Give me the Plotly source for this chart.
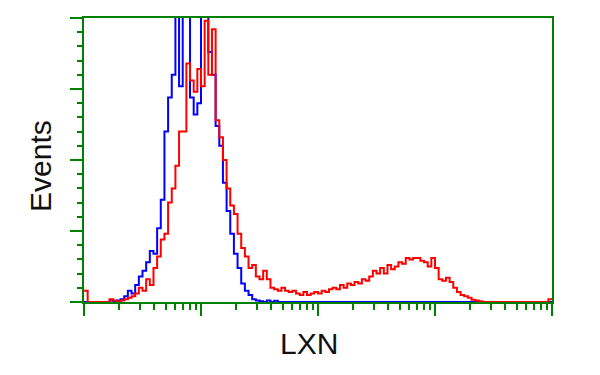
import plotly.graph_objects as go

# 128 log-spaced channels over 4 decades (channel k -> 10**(k/32))
channels = list(range(128))

blue_counts = [
    0, 0, 0, 0, 0, 0, 0, 0.5, 0, 0.5,
    1, 2, 4, 3, 6, 9, 11, 14, 18, 17,
    26, 36, 60, 72, 80, 120, 76, 120, 115, 72,
    66, 70, 120, 120, 88, 80, 62, 55, 42, 32,
    24, 17, 12, 6.5, 4, 2.5, 1, 0.5, 0.3, 0,
    0.5, 0, 0.4, 0, 0, 0, 0, 0, 0, 0,
] + [0] * 68

red_counts = [
    4, 0, 0, 0, 0, 0, 0, 1, 0.5, 0,
    0.5, 1, 1.5, 2, 3, 5, 4, 8, 6, 12,
    16, 22, 24, 35, 40, 48, 60, 60, 84, 78,
    74, 82, 76, 99, 80, 96, 64, 58, 50, 40,
    34, 31, 24, 19, 16, 12, 13, 9, 8, 11,
    8, 5, 4.5, 4, 5, 4, 3.5, 4, 3, 2.5,
    3.5, 2.5, 3, 3.5, 3, 4, 3.5, 4.5, 5, 4.5,
    6, 5, 6.5, 6, 7, 6.5, 8, 7.5, 9, 11,
    10, 12, 10, 13, 11.5, 12.5, 14, 13.5, 15.5, 15,
    15.5, 15.5, 14.5, 14, 12.5, 15.5, 12, 8, 7.5, 8.5,
    7, 5, 3.5, 2.5, 2, 1.5, 0.8, 0.5, 0.3, 0,
] + [0] * 17 + [1]

x_vals = [10 ** (k / 32) for k in channels] + [10 ** 4]
blue_y = blue_counts + [blue_counts[-1]]
red_y = red_counts + [red_counts[-1]]

fig = go.Figure()
fig.add_trace(go.Scatter(x=x_vals, y=blue_y, mode="lines", line=dict(color="#0000ff", width=2, shape="hv"),
                         showlegend=False, hoverinfo="skip"))
fig.add_trace(go.Scatter(x=x_vals, y=red_y, mode="lines", line=dict(color="#ff0000", width=2, shape="hv"),
                         showlegend=False, hoverinfo="skip"))

green = "#008000"
minor_x = [m * 10 ** d for d in range(4) for m in range(2, 10)]

fig.update_layout(
    width=600, height=375,
    margin=dict(l=84, r=48, t=18, b=73),
    paper_bgcolor="white", plot_bgcolor="white",
    font=dict(family="Liberation Sans, Arial, sans-serif", color="#111111"),
    xaxis=dict(
        type="log", range=[0, 4], showgrid=False, zeroline=False,
        showline=True, linecolor=green, linewidth=2, mirror=True,
        ticks="outside", tickvals=[1, 10, 100, 1000, 10000], ticklen=12, tickwidth=2, tickcolor=green,
        showticklabels=False,
        minor=dict(tickmode="array", tickvals=minor_x, ticks="outside", ticklen=6, tickwidth=2, tickcolor=green),
    ),
    yaxis=dict(
        range=[0, 100], showgrid=False, zeroline=False,
        showline=True, linecolor=green, linewidth=2, mirror=True,
        ticks="outside", tickvals=[0, 25, 50, 75, 100], ticklen=12, tickwidth=2, tickcolor=green,
        showticklabels=False,
        minor=dict(tickmode="array", tickvals=[v for v in range(5, 100, 5) if v % 25], ticks="outside",
                   ticklen=5, tickwidth=2, tickcolor=green),
    ),
    annotations=[
        dict(text="LXN", xref="paper", yref="paper", x=0.481, y=-0.146, xanchor="center", yanchor="middle",
             showarrow=False, font=dict(size=30, color="#111111")),
        dict(text="Events", xref="paper", yref="paper", x=-0.092, y=0.479, xanchor="center", yanchor="middle",
             textangle=-90, showarrow=False, font=dict(size=30, color="#111111")),
    ],
)

fig.write_html("out.html")
